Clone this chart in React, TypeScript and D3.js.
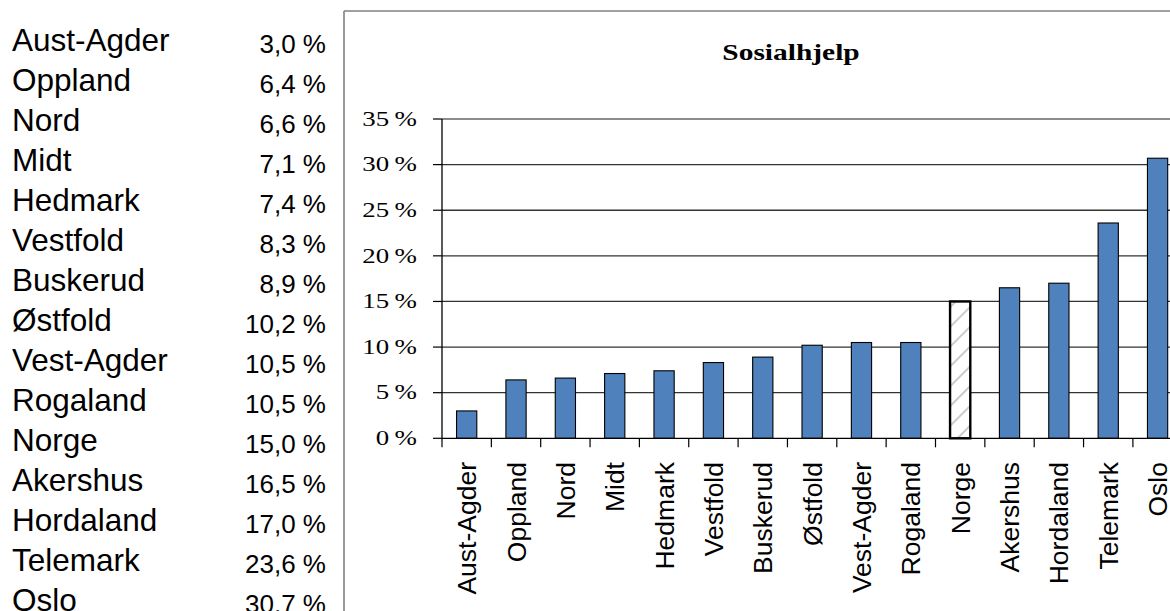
import React from 'react';
import * as d3 from 'd3';

// Share of recipients of social assistance, by county / region
const categories: string[] = [
  'Aust-Agder', 'Oppland', 'Nord', 'Midt', 'Hedmark', 'Vestfold', 'Buskerud',
  'Østfold', 'Vest-Agder', 'Rogaland', 'Norge', 'Akershus', 'Hordaland', 'Telemark', 'Oslo',
];
const values: number[] = [3.0, 6.4, 6.6, 7.1, 7.4, 8.3, 8.9, 10.2, 10.5, 10.5, 15.0, 16.5, 17.0, 23.6, 30.7];
const yTicks: number[] = [0, 5, 10, 15, 20, 25, 30, 35];
const nationalCategory = 'Norge';
const chartTitle = 'Sosialhjelp';

const fmtValue = (v: number) => v.toFixed(1).replace('.', ',') + ' %';

export default function App() {
  const W = 1170;
  const H = 611;

  // plot geometry
  const left = 442;
  const step = 49.35;
  const x = d3
    .scaleBand<string>()
    .domain(categories)
    .range([left, left + step * categories.length])
    .paddingInner(0.59)
    .paddingOuter(0.295);
  const y = d3.scaleLinear().domain([0, 35]).range([438.3, 119]);
  const right = left + step * categories.length;
  const boundaries = d3.range(categories.length + 1).map((i) => left + i * x.step());

  const sans = "'Liberation Sans', Arial, sans-serif";
  const serif = "'Liberation Serif', 'Times New Roman', serif";
  const stretch = 1.28; // wide serif lettering inside the chart frame

  const tableTop = 50.7;
  const rowGap = 40;

  return (
    <svg
      width={W}
      height={H}
      style={{ position: 'absolute', left: 0, top: 0, background: '#fff' }}
    >
      <defs>
        <pattern id="hatch" width="14" height="14" patternUnits="userSpaceOnUse" patternTransform="rotate(-45)">
          <rect width="14" height="14" fill="#fff" />
          <line x1="0" y1="7" x2="14" y2="7" stroke="#a0a0a0" strokeWidth="1.1" />
        </pattern>
      </defs>
      <rect x={0} y={0} width={W} height={H} fill="#fff" />

      {/* table of values on the left */}
      {categories.map((c, i) => (
        <g key={c}>
          <text x={12} y={tableTop + i * rowGap} fontFamily={sans} fontSize={31.5} fill="#000">
            {c}
          </text>
          <text
            x={326}
            y={tableTop + i * rowGap + 2}
            fontFamily={sans}
            fontSize={26}
            textAnchor="end"
            fill="#000"
          >
            {fmtValue(values[i])}
          </text>
        </g>
      ))}

      {/* chart frame */}
      <line x1={344} y1={11} x2={W + 2} y2={11} stroke="#808080" strokeWidth={1.6} />
      <line x1={344} y1={11} x2={344} y2={H + 2} stroke="#808080" strokeWidth={1.6} />

      {/* title */}
      <g transform={`translate(791,60) scale(${stretch},1)`}>
        <text textAnchor="middle" fontFamily={serif} fontWeight="bold" fontSize={23} fill="#000">
          {chartTitle}
        </text>
      </g>

      {/* gridlines */}
      {yTicks.map((t) =>
        t === 0 ? null : (
          <line
            key={t}
            x1={left}
            x2={right}
            y1={y(t)}
            y2={y(t)}
            stroke={t === 35 ? '#8c8c8c' : '#333'}
            strokeWidth={t === 35 ? 1.8 : 1.3}
          />
        )
      )}

      {/* y axis */}
      <line x1={left} x2={left} y1={y(35)} y2={y(0)} stroke="#000" strokeWidth={1.3} />
      {yTicks.map((t) => (
        <g key={t}>
          <line x1={left - 9} x2={left} y1={y(t)} y2={y(t)} stroke="#000" strokeWidth={1.2} />
          <g transform={`translate(417,${y(t) + 6.8}) scale(${stretch},1)`}>
            <text textAnchor="end" fontFamily={serif} fontSize={21} fill="#000">
              {`${t}\u2009%`}
            </text>
          </g>
        </g>
      ))}

      {/* bars */}
      {categories.map((c, i) => {
        const isNat = c === nationalCategory;
        const x0 = x(c)!;
        const y0 = y(values[i]);
        return (
          <rect
            key={c}
            x={x0}
            y={y0}
            width={x.bandwidth()}
            height={y(0) - y0}
            fill={isNat ? 'url(#hatch)' : '#4f81bd'}
            stroke="#000"
            strokeWidth={isNat ? 2.4 : 1.1}
          />
        );
      })}

      {/* x axis */}
      <line x1={left} x2={right} y1={y(0)} y2={y(0)} stroke="#000" strokeWidth={1.3} />
      {boundaries.map((b, i) => (
        <line key={i} x1={b} x2={b} y1={y(0)} y2={y(0) + 9} stroke="#000" strokeWidth={1.2} />
      ))}
      {categories.map((c) => {
        const cx = x(c)! + x.bandwidth() / 2 + 9.5;
        return (
          <text
            key={c}
            transform={`translate(${cx},462) rotate(-90)`}
            textAnchor="end"
            fontFamily={sans}
            fontSize={26.5}
            fill="#000"
          >
            {c}
          </text>
        );
      })}
    </svg>
  );
}
